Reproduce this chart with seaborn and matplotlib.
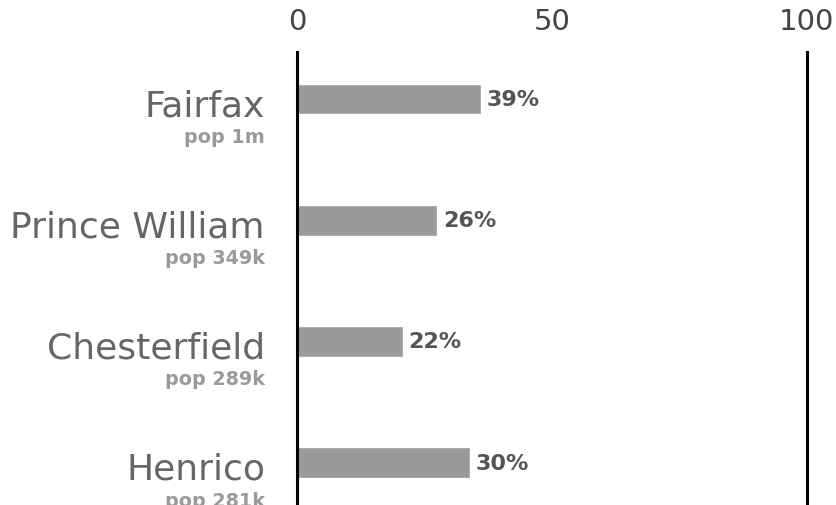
import seaborn as sns
import matplotlib.pyplot as plt

counties = ["Fairfax", "Prince William", "Chesterfield", "Henrico"]
populations = ["pop 1m", "pop 349k", "pop 289k", "pop 281k"]
bar_pct = [36, 27.5, 20.7, 33.9]
label_pct = ["39%", "26%", "22%", "30%"]
x_ticks = [0, 50, 100]

sns.set_style("white")
plt.rcParams['font.family'] = ['DejaVu Sans']

fig = plt.figure(figsize=(8.36, 5.06), dpi=100)
ax = fig.add_axes([297 / 836, 0.0, 510 / 836, 1 - 53 / 506])

sns.barplot(x=bar_pct, y=counties, orient="h", color="#9a9a9a",
            width=0.25, saturation=1, ax=ax)

ax.set_xlim(0, 100)
ax.set_ylim(3.35, -0.39)
ax.set_xticks(x_ticks)
ax.xaxis.tick_top()
ax.tick_params(axis="x", length=0, pad=12, labelsize=21, labelcolor="#444444")
ax.set_yticks([])
ax.set_xlabel("")
ax.set_ylabel("")

for side in ["top", "bottom"]:
    ax.spines[side].set_visible(False)
for side in ["left", "right"]:
    ax.spines[side].set_color("black")
    ax.spines[side].set_linewidth(2.2)

px = 72 / 100  # pixels to points
for i, (name, pop, val, lab) in enumerate(zip(counties, populations, bar_pct, label_pct)):
    ax.annotate(name, xy=(0, i), xytext=(-32 * px, -16 * px), textcoords="offset points",
                ha="right", va="baseline", fontsize=26, color="#666666",
                annotation_clip=False)
    ax.annotate(pop, xy=(0, i), xytext=(-32 * px, -43 * px), textcoords="offset points",
                ha="right", va="baseline", fontsize=13.8, fontweight="bold",
                color="#9a9a9a", annotation_clip=False)
    ax.annotate(lab, xy=(val, i), xytext=(6 * px, 0), textcoords="offset points",
                ha="left", va="center", fontsize=16, fontweight="bold",
                color="#555555")

fig.savefig("out.png", dpi=100)
